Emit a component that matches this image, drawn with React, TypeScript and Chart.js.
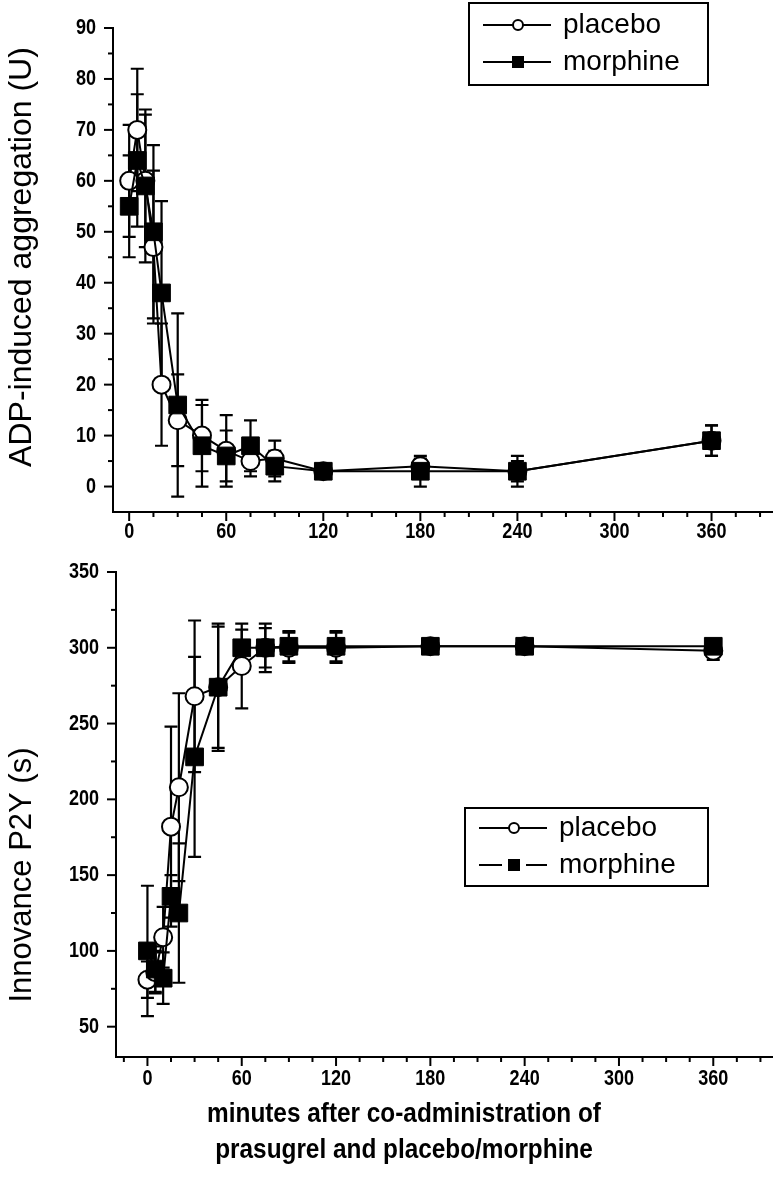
import React, { useEffect, useRef } from "react";
import { Chart, registerables } from "chart.js";

Chart.register(...registerables);

// ---- data ----
const minutes = [0, 5, 10, 15, 20, 30, 45, 60, 75, 90, 120, 180, 240, 360];

const placeboADP = [60, 70, 60, 47, 20, 13, 10, 7, 5, 5.5, 3, 4, 3, 9];
const placeboADPErr = [11, 12, 13, 15, 12, 9, 7, 7, 3, 3.5, 1, 1.5, 2, 3];
const morphineADP = [55, 64, 59, 50, 38, 16, 8, 6, 8, 4, 3, 3, 3, 9];
const morphineADPErr = [10, 13, 15, 17, 18, 18, 8, 5, 5, 3, 1, 3, 3, 3];

const placeboP2Y = [81, 86, 109, 182, 208, 268, 274, 288, 300, 300, 300, 301, 301, 298];
const placeboP2YErr = [12, 14, 20, 66, 62, 50, 40, 28, 16, 10, 10, 3, 3, 6];
const morphineP2Y = [100, 88, 82, 136, 125, 228, 274, 300, 300, 301, 301, 301, 301, 301];
const morphineP2YErr = [43, 15, 17, 14, 46, 66, 42, 12, 13, 10, 10, 3, 3, 3];

const xTickValues = [0, 60, 120, 180, 240, 300, 360];
const adpTickValues = [0, 10, 20, 30, 40, 50, 60, 70, 80, 90];
const p2yTickValues = [50, 100, 150, 200, 250, 300, 350];

const seriesNames = ["placebo", "morphine"];
const adpTitle = "ADP-induced aggregation (U)";
const p2yTitle = "Innovance P2Y (s)";
const xTitleLines = ["minutes after co-administration of", "prasugrel and placebo/morphine"];

// ---- styles ----
const SANS = "'Liberation Sans', Arial, 'DejaVu Sans', sans-serif";
const TICK_SCALE = 0.82;
const TITLE_SCALE = 0.87;

type DecorCfg = {
  errors: number[][];
  xMinor: number; xMajor: number;
  yMinor: number; yMajor: number;
  yTicks: number[];
  xLabelDy: number; yLabelGap: number;
  yTitle: string; yTitleX: number; yTitleY: number; yTitleSize: number;
  xTitle?: string[]; xTitleX?: number; xTitleY?: number[];
  legend: { x: number; y: number; w: number; h: number; rows: number[]; split: boolean };
};

function narrowText(ctx: CanvasRenderingContext2D, text: string, x: number, y: number, align: CanvasTextAlign, sx: number) {
  ctx.save();
  ctx.translate(x, y);
  ctx.scale(sx, 1);
  ctx.textAlign = align;
  ctx.textBaseline = "middle";
  ctx.fillText(text, 0, 0);
  ctx.restore();
}

function makeDecor(cfg: DecorCfg) {
  return {
    id: "decor",
    beforeDatasetsDraw(chart: any) {
      const ctx = chart.ctx as CanvasRenderingContext2D;
      const xs = chart.scales.x;
      const ys = chart.scales.y;
      const { left, right, top, bottom } = chart.chartArea;
      ctx.save();
      ctx.strokeStyle = "#000";
      ctx.fillStyle = "#000";
      ctx.lineWidth = 2;
      ctx.lineCap = "butt";
      // axes
      ctx.beginPath();
      ctx.moveTo(left, top - 1);
      ctx.lineTo(left, bottom);
      ctx.lineTo(right, bottom);
      ctx.stroke();
      // x ticks
      const xStart = Math.ceil(xs.min / cfg.xMinor) * cfg.xMinor;
      for (let v = xStart; v <= xs.max; v += cfg.xMinor) {
        if (v === xs.min || v === xs.max) continue;
        const px = xs.getPixelForValue(v);
        const len = v % cfg.xMajor === 0 ? 9 : 5;
        ctx.beginPath();
        ctx.moveTo(px, bottom);
        ctx.lineTo(px, bottom + len);
        ctx.stroke();
      }
      // y ticks
      const yStart = Math.ceil(ys.min / cfg.yMinor) * cfg.yMinor;
      for (let v = yStart; v <= ys.max; v += cfg.yMinor) {
        if (v === ys.min) continue;
        const py = ys.getPixelForValue(v);
        const len = v % cfg.yMajor === 0 ? 9 : 5;
        ctx.beginPath();
        ctx.moveTo(left, py);
        ctx.lineTo(left - len, py);
        ctx.stroke();
      }
      // tick labels (narrow bold)
      ctx.font = `bold 22px ${SANS}`;
      xTickValues.forEach((v) => {
        narrowText(ctx, String(v), xs.getPixelForValue(v), bottom + cfg.xLabelDy, "center", TICK_SCALE);
      });
      cfg.yTicks.forEach((v) => {
        narrowText(ctx, String(v), left - cfg.yLabelGap, ys.getPixelForValue(v), "right", TICK_SCALE);
      });
      // error bars
      ctx.lineWidth = 2.2;
      chart.data.datasets.forEach((ds: any, i: number) => {
        const errs = cfg.errors[i];
        ds.data.forEach((pt: any, j: number) => {
          const e = errs[j];
          const px = xs.getPixelForValue(pt.x);
          const y1 = ys.getPixelForValue(pt.y + e);
          const y2 = ys.getPixelForValue(pt.y - e);
          ctx.beginPath();
          ctx.moveTo(px, y1);
          ctx.lineTo(px, y2);
          ctx.moveTo(px - 6.5, y1);
          ctx.lineTo(px + 6.5, y1);
          ctx.moveTo(px - 6.5, y2);
          ctx.lineTo(px + 6.5, y2);
          ctx.stroke();
        });
      });
      ctx.restore();
    },
    afterDraw(chart: any) {
      const ctx = chart.ctx as CanvasRenderingContext2D;
      ctx.save();
      ctx.fillStyle = "#000";
      ctx.strokeStyle = "#000";
      // y title
      ctx.save();
      ctx.translate(cfg.yTitleX, cfg.yTitleY);
      ctx.rotate(-Math.PI / 2);
      ctx.font = `${cfg.yTitleSize}px ${SANS}`;
      ctx.textAlign = "center";
      ctx.textBaseline = "middle";
      ctx.fillText(cfg.yTitle, 0, 0);
      ctx.restore();
      // x title
      if (cfg.xTitle && cfg.xTitleY) {
        ctx.font = `bold 28px ${SANS}`;
        cfg.xTitle.forEach((line, i) => narrowText(ctx, line, cfg.xTitleX!, cfg.xTitleY![i], "center", TITLE_SCALE));
      }
      // legend
      const L = cfg.legend;
      ctx.lineWidth = 2;
      ctx.strokeRect(L.x, L.y, L.w, L.h);
      const lx0 = L.x + 14, lx1 = L.x + 82, mx = L.x + 49;
      L.rows.forEach((ry, i) => {
        ctx.lineWidth = 2;
        ctx.beginPath();
        if (i === 1 && L.split) {
          ctx.moveTo(lx0, ry); ctx.lineTo(mx - 12, ry);
          ctx.moveTo(mx + 12, ry); ctx.lineTo(lx1, ry);
        } else {
          ctx.moveTo(lx0, ry); ctx.lineTo(lx1, ry);
        }
        ctx.stroke();
        if (i === 0) {
          ctx.beginPath();
          ctx.arc(mx, ry, 5, 0, Math.PI * 2);
          ctx.fillStyle = "#fff";
          ctx.fill();
          ctx.stroke();
          ctx.fillStyle = "#000";
        } else {
          ctx.fillRect(mx - 6, ry - 6, 12, 12);
        }
        ctx.font = `28px ${SANS}`;
        ctx.textAlign = "left";
        ctx.textBaseline = "middle";
        ctx.fillText(seriesNames[i], L.x + 94, ry);
      });
      ctx.restore();
    },
  };
}

function buildDatasets(pl: number[], mo: number[]) {
  return [
    {
      label: seriesNames[0],
      data: minutes.map((m, i) => ({ x: m, y: pl[i] })),
      borderColor: "#000",
      borderWidth: 2,
      pointStyle: "circle",
      pointRadius: 9,
      pointBackgroundColor: "#fff",
      pointBorderColor: "#000",
      pointBorderWidth: 2,
      tension: 0,
      fill: false,
      clip: false,
      order: 1,
    },
    {
      label: seriesNames[1],
      data: minutes.map((m, i) => ({ x: m, y: mo[i] })),
      borderColor: "#000",
      borderWidth: 2,
      pointStyle: "rect",
      pointRadius: 12.5,
      pointBackgroundColor: "#000",
      pointBorderColor: "#000",
      pointBorderWidth: 1,
      tension: 0,
      fill: false,
      clip: false,
      order: 0,
    },
  ];
}

function makeOptions(p: {
  xMin: number; xMax: number; yMin: number; yMax: number;
  padTop: number; padRight: number; yWidth: number; xHeight: number;
}) {
  const zeroPad = (s: any) => {
    s.paddingLeft = 0; s.paddingRight = 0; s.paddingTop = 0; s.paddingBottom = 0;
  };
  return {
    responsive: false,
    animation: false as const,
    events: [],
    layout: { autoPadding: false, padding: { top: p.padTop, right: p.padRight, left: 0, bottom: 0 } },
    plugins: { legend: { display: false }, tooltip: { enabled: false } },
    scales: {
      x: {
        type: "linear" as const,
        min: p.xMin,
        max: p.xMax,
        grid: { display: false, drawTicks: false },
        border: { display: false },
        afterBuildTicks: (s: any) => { s.ticks = xTickValues.map((v) => ({ value: v })); },
        afterFit: (s: any) => { s.height = p.xHeight; zeroPad(s); },
        ticks: { display: false },
      },
      y: {
        type: "linear" as const,
        min: p.yMin,
        max: p.yMax,
        grid: { display: false, drawTicks: false },
        border: { display: false },
        afterFit: (s: any) => { s.width = p.yWidth; zeroPad(s); },
        ticks: { display: false },
      },
    },
  };
}

export default function App() {
  const topRef = useRef<HTMLCanvasElement>(null);
  const botRef = useRef<HTMLCanvasElement>(null);

  useEffect(() => {
    const top = new Chart(topRef.current!, {
      type: "line",
      data: { datasets: buildDatasets(placeboADP, morphineADP) as any },
      options: makeOptions({
        xMin: -10, xMax: 398, yMin: -5, yMax: 90,
        padTop: 28, padRight: 1, yWidth: 113, xHeight: 36,
      }) as any,
      plugins: [
        makeDecor({
          errors: [placeboADPErr, morphineADPErr],
          xMinor: 15, xMajor: 60, yMinor: 5, yMajor: 10, yTicks: adpTickValues,
          xLabelDy: 20, yLabelGap: 17,
          yTitle: adpTitle, yTitleX: 22, yTitleY: 257, yTitleSize: 32,
          legend: { x: 469, y: 3, w: 239, h: 82, rows: [25, 62], split: false },
        }),
      ],
    });
    const bot = new Chart(botRef.current!, {
      type: "line",
      data: { datasets: buildDatasets(placeboP2Y, morphineP2Y) as any },
      options: makeOptions({
        xMin: -20, xMax: 398, yMin: 30, yMax: 350,
        padTop: 24, padRight: 1, yWidth: 116, xHeight: 141,
      }) as any,
      plugins: [
        makeDecor({
          errors: [placeboP2YErr, morphineP2YErr],
          xMinor: 15, xMajor: 60, yMinor: 25, yMajor: 50, yTicks: p2yTickValues,
          xLabelDy: 22, yLabelGap: 17,
          yTitle: p2yTitle, yTitleX: 22, yTitleY: 327, yTitleSize: 31,
          xTitle: xTitleLines, xTitleX: 404, xTitleY: [566, 602],
          legend: { x: 465, y: 260, w: 243, h: 78, rows: [280, 317], split: true },
        }),
      ],
    });
    return () => {
      top.destroy();
      bot.destroy();
    };
  }, []);

  return (
    <div style={{ position: "absolute", left: 0, top: 0, width: 774, height: 1198, background: "#fff" }}>
      <canvas ref={topRef} width={774} height={548} style={{ position: "absolute", left: 0, top: 0 }} />
      <canvas ref={botRef} width={774} height={650} style={{ position: "absolute", left: 0, top: 548 }} />
    </div>
  );
}
